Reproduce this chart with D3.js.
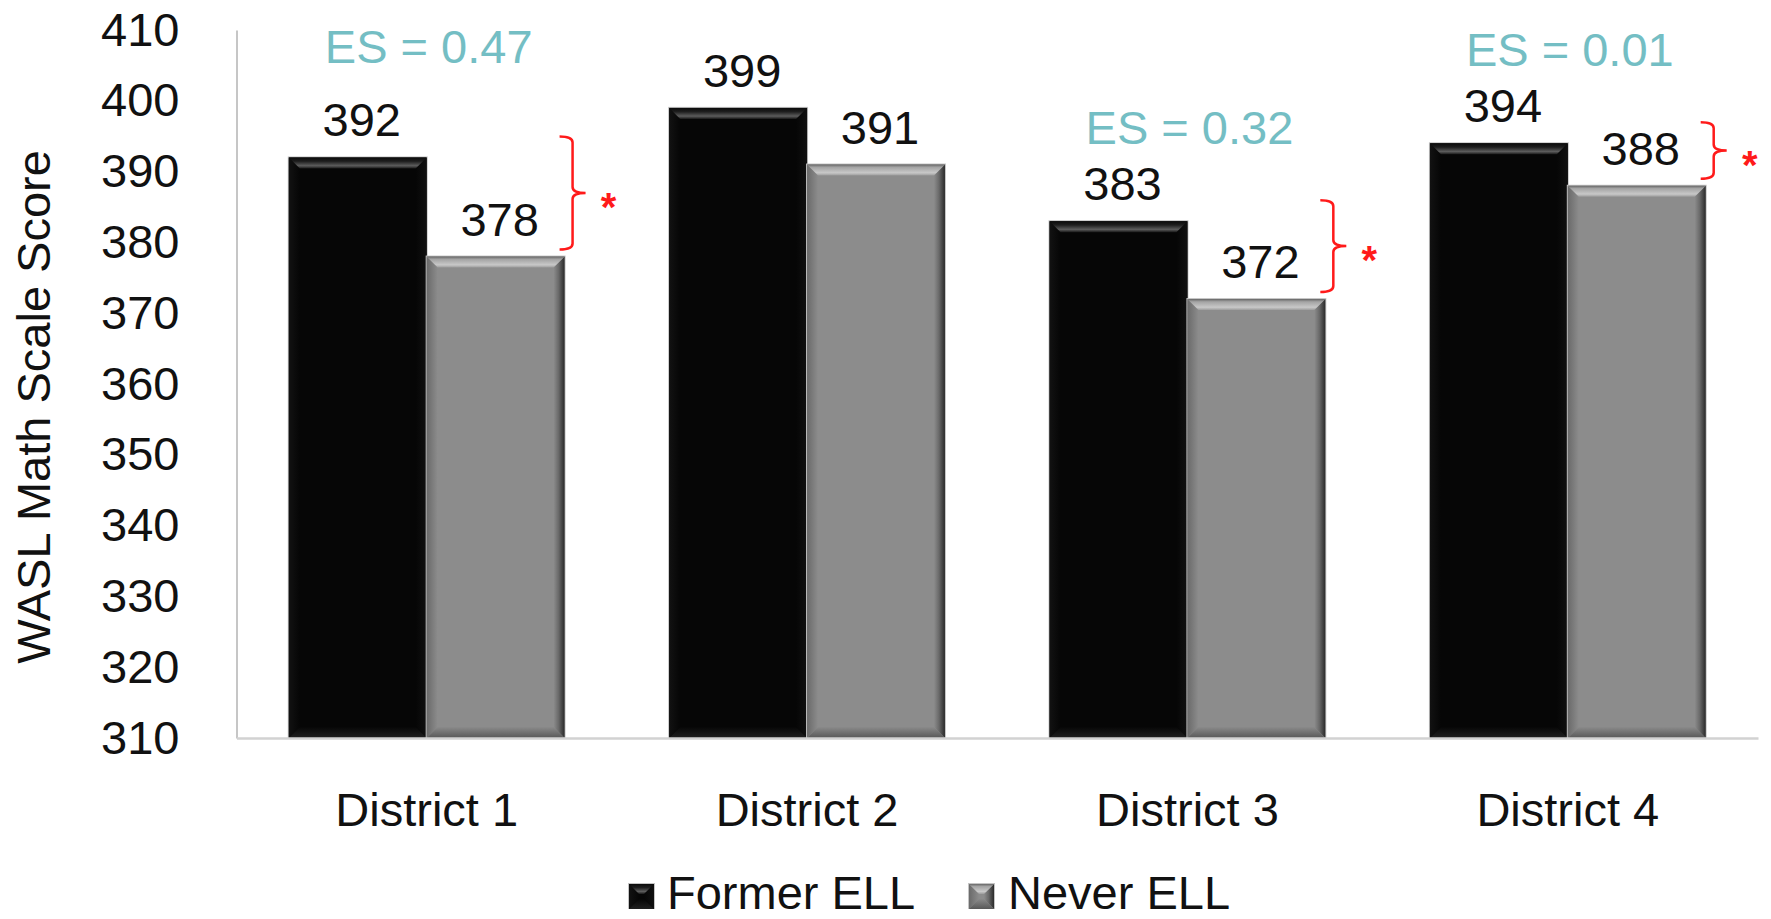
<!DOCTYPE html>
<html>
<head>
<meta charset="utf-8">
<script src="https://cdn.jsdelivr.net/npm/d3@7/dist/d3.min.js"></script>
<style>
  html, body { margin: 0; padding: 0; background: #ffffff; }
  svg { display: block; }
  text { font-family: "Liberation Sans", Arial, Helvetica, sans-serif; }
</style>
</head>
<body>
<svg id="chart" width="1771" height="919"></svg>
<script>
// ---- data ----
const districts   = ["District 1", "District 2", "District 3", "District 4"];
const seriesNames = ["Former ELL", "Never ELL"];
const formerELL   = [392, 399, 383, 394];
const neverELL    = [378, 391, 372, 388];
const effectSizes = ["0.47", null, "0.32", "0.01"];
const significant = [true, false, true, true];
const yTicks      = [310, 320, 330, 340, 350, 360, 370, 380, 390, 400, 410];
const yDomain     = [310, 410];

// ---- layout ----
const plot = { left: 236.5, right: 1758, top: 30, bottom: 738 };
const FONT = 47;

const svg = d3.select("#chart");
const defs = svg.append("defs");

const x0 = d3.scaleBand()
  .domain(districts)
  .range([plot.left, plot.right])
  .paddingInner(0.275)
  .paddingOuter(0.1375);

const x1 = d3.scaleBand()
  .domain(seriesNames)
  .range([0, x0.bandwidth()])
  .padding(0);

const y = d3.scaleLinear().domain(yDomain).range([plot.bottom, plot.top]);

// ---- bevel styles (raised bars) ----
const styles = {
  "Former ELL": {
    base: "#060606",
    top:    [["0", "#0a0a0a"], ["0.35", "#1e1e1e"], ["0.75", "#5c5c5c"], ["1", "#1a1a1a"]],
    bottom: [["0", "#070707"], ["1", "#202020"]],
    left:   [["0", "#121212"], ["1", "#060606"]],
    right:  [["0", "#060606"], ["1", "#101010"]]
  },
  "Never ELL": {
    base: "#8c8c8c",
    top:    [["0", "#666666"], ["0.25", "#a4a4a4"], ["0.75", "#c8c8c8"], ["1", "#9c9c9c"]],
    bottom: [["0", "#8a8a8a"], ["1", "#585858"]],
    left:   [["0", "#6a6a6a"], ["1", "#8c8c8c"]],
    right:  [["0", "#8c8c8c"], ["0.45", "#6a6a6a"], ["1", "#2a2a2a"]]
  }
};

function makeGrad(id, stops, vertical) {
  const g = defs.append("linearGradient").attr("id", id)
    .attr("x1", 0).attr("y1", 0)
    .attr("x2", vertical ? 0 : 1).attr("y2", vertical ? 1 : 0);
  stops.forEach(s => g.append("stop").attr("offset", s[0]).attr("stop-color", s[1]));
}
seriesNames.forEach((name, i) => {
  const s = styles[name];
  makeGrad("g" + i + "top", s.top, true);
  makeGrad("g" + i + "bottom", s.bottom, true);
  makeGrad("g" + i + "left", s.left, false);
  makeGrad("g" + i + "right", s.right, false);
});

const line = d3.line();
function bevelBox(g, si, x, yTop, w, h, b) {
  const s = styles[seriesNames[si]];
  g.append("rect").attr("x", x - 1).attr("y", yTop - 1)
    .attr("width", w + 2).attr("height", h + 1).attr("fill", "#c4c4c4");
  g.append("rect").attr("x", x).attr("y", yTop)
    .attr("width", w).attr("height", h).attr("fill", s.base);
  const yb = yTop + h;
  const polys = {
    left:   [[x, yTop], [x + b, yTop + b], [x + b, yb - b], [x, yb]],
    right:  [[x + w, yTop], [x + w - b, yTop + b], [x + w - b, yb - b], [x + w, yb]],
    bottom: [[x, yb], [x + w, yb], [x + w - b, yb - b], [x + b, yb - b]],
    top:    [[x, yTop], [x + w, yTop], [x + w - b, yTop + b], [x + b, yTop + b]]
  };
  ["left", "right", "bottom", "top"].forEach(k => {
    g.append("path").attr("d", line(polys[k]) + "Z")
      .attr("fill", "url(#g" + si + k + ")");
  });
}

// ---- axes ----
const yAxis = d3.axisLeft(y).tickValues(yTicks).tickSize(0).tickPadding(57);
const gy = svg.append("g").attr("transform", `translate(${plot.left},0)`).call(yAxis);
gy.select(".domain").attr("stroke", "#c6c6c6").attr("stroke-width", 2);
gy.selectAll(".tick text").attr("font-size", FONT).attr("fill", "#111")
  .attr("font-family", "Liberation Sans, Arial, sans-serif");

// ---- bars ----
const bars = svg.append("g");
districts.forEach((d, di) => {
  [formerELL[di], neverELL[di]].forEach((v, si) => {
    const bx = x0(d) + x1(seriesNames[si]);
    const by = y(v);
    bevelBox(bars.append("g"), si, bx, by, x1.bandwidth(), y(yDomain[0]) - by, 11);
  });
});

const xAxis = d3.axisBottom(x0).tickSize(0).tickSizeOuter(0).tickPadding(55);
const gx = svg.append("g").attr("transform", `translate(0,${plot.bottom})`).call(xAxis);
gx.select(".domain").attr("stroke", "#d2d2d2").attr("stroke-width", 2.5);
gx.selectAll(".tick text").attr("font-size", FONT).attr("fill", "#111")
  .attr("font-family", "Liberation Sans, Arial, sans-serif");

// ---- value labels ----
const labels = svg.append("g").attr("font-size", FONT).attr("fill", "#111").attr("text-anchor", "middle");
districts.forEach((d, di) => {
  [formerELL[di], neverELL[di]].forEach((v, si) => {
    labels.append("text")
      .attr("x", x0(d) + x1(seriesNames[si]) + x1.bandwidth() / 2 + 4)
      .attr("y", y(v) - 21)
      .text(v);
  });
});

// ---- effect size labels ----
const esLift = [17, 0, 0, 0];
const es = svg.append("g").attr("font-size", FONT).attr("fill", "#74bec4").attr("text-anchor", "middle");
districts.forEach((d, di) => {
  if (effectSizes[di] === null) return;
  const top = y(Math.max(formerELL[di], neverELL[di]));
  es.append("text")
    .attr("x", x0(d) + x0.bandwidth() / 2 + 2)
    .attr("y", top - 77 - esLift[di])
    .text("ES = " + effectSizes[di]);
});

// ---- significance braces ----
const braces = svg.append("g");
districts.forEach((d, di) => {
  if (!significant[di]) return;
  const bx = x0(d) + x0.bandwidth() + 8;
  const t = y(formerELL[di]) - 21;
  const b = y(neverELL[di]) - 7;
  const m = (t + b) / 2;
  const hook = 13, tip = 13, r = 6;
  const p = d3.path();
  p.moveTo(bx - hook, t);
  p.quadraticCurveTo(bx, t, bx, t + r);
  p.lineTo(bx, m - r);
  p.quadraticCurveTo(bx, m, bx + tip, m);
  p.moveTo(bx + tip, m);
  p.quadraticCurveTo(bx, m, bx, m + r);
  p.lineTo(bx, b - r);
  p.quadraticCurveTo(bx, b, bx - hook, b);
  braces.append("path").attr("d", p.toString())
    .attr("fill", "none").attr("stroke", "#ff1a1a").attr("stroke-width", 2.5);
  braces.append("text")
    .attr("x", bx + 36).attr("y", m + 28)
    .attr("text-anchor", "middle")
    .attr("font-size", 40).attr("font-weight", "bold")
    .attr("fill", "#ff1a1a")
    .text("*");
});

// ---- y axis title ----
svg.append("text")
  .attr("transform", "translate(50,407) rotate(-90)")
  .attr("text-anchor", "middle")
  .attr("font-size", FONT).attr("fill", "#111")
  .text("WASL Math Scale Score");

// ---- legend ----
const legend = svg.append("g");
const legendItems = [
  { name: seriesNames[0], box: 629, text: 667 },
  { name: seriesNames[1], box: 969, text: 1008 }
];
legendItems.forEach((it, i) => {
  const lg = legend.append("g");
  bevelBox(lg, i, it.box, 884, 25, 25, 10);
  lg.append("text").attr("x", it.text).attr("y", 909)
    .attr("font-size", FONT).attr("fill", "#111").text(it.name);
});
</script>
</body>
</html>
